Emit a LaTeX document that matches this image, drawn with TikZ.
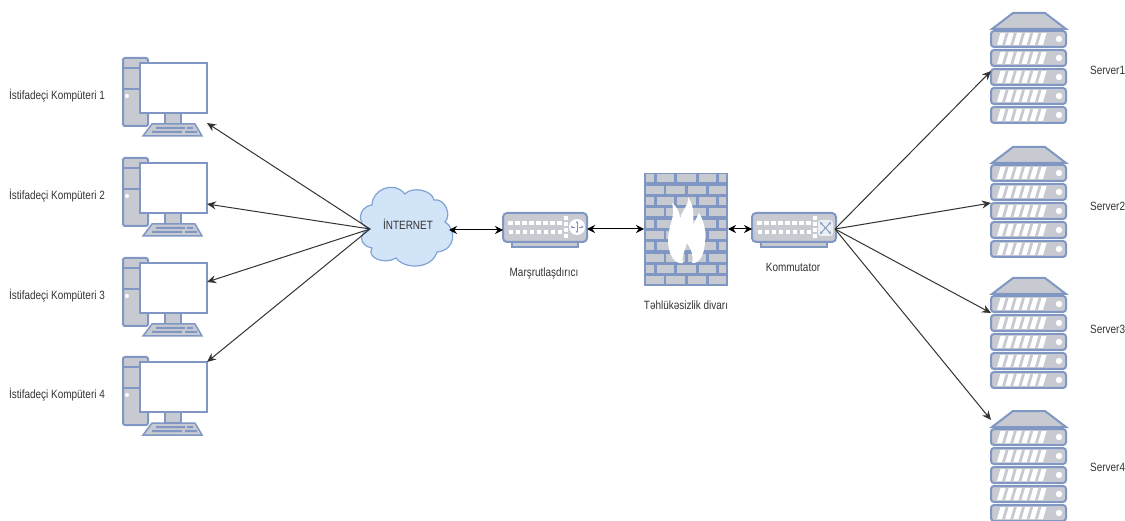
\documentclass[tikz,border=0pt]{standalone}
\usepackage{fontspec}
\setmainfont[FakeStretch=0.83]{Liberation Sans}
\usepackage{xcolor}
\usepackage{tikz}
\usetikzlibrary{arrows.meta}

\definecolor{iconblue}{HTML}{7F97C2}
\definecolor{icongray}{HTML}{C8CAD2}
\definecolor{cloudblue}{HTML}{D2E4F8}
\definecolor{cloudline}{HTML}{7FA3D2}
\definecolor{inkgray}{HTML}{333333}

\tikzset{
	iconpart/.style={draw=iconblue, fill=icongray, line width=2pt},
	iconbar/.style={fill=iconblue},
	iconhole/.style={fill=white},
	labeltext/.style={text=inkgray, font=\fontsize{12}{14}\selectfont, inner sep=0pt},
	link/.style={draw=inkgray, line width=1pt, -{Stealth[length=9pt,width=8pt]}},
	duallink/.style={draw=black, line width=1pt, {Stealth[length=8pt,width=8pt]}-{Stealth[length=8pt,width=8pt]}},
	pcicon/.pic={
		\draw[iconpart, rounded corners=2pt] (0,1) rectangle (25,69);
		\draw[draw=iconblue, line width=2pt] (0,11) -- (25,11) (0,32) -- (25,32);
		\fill[iconhole] (4,39) circle (2);
		\draw[iconpart] (42,56) rectangle (58,67);
		\draw[draw=iconblue, fill=white, line width=2.6pt] (17,6) rectangle (84,56);
		\draw[iconpart, line width=1.5pt] (29,67) -- (72,67) -- (79,79) -- (20,79) -- cycle;
		\fill[iconbar] (33,70) rectangle (62,72) (29,74) rectangle (59,76);
		\fill[iconbar] (64,70) rectangle (70,72) (62,74) rectangle (74,76);
	},
	devicebody/.pic={
		\draw[iconpart, line width=1.5pt] (9,29) rectangle (75,34);
		\draw[iconpart, rounded corners=4pt] (0,0) rectangle (84,29);
		\foreach \col in {0,...,7} {
			\fill[iconhole] (5+\col*7,8) rectangle +(5,4.5);
			\fill[iconhole] (5.5+\col*7,17) rectangle +(4,4);
		}
		\foreach \row in {3,9,15,21} {
			\fill[iconhole] (61,\row) rectangle +(3.5,4);
		}
	},
	routericon/.pic={
		\pic {devicebody};
		\fill[iconhole] (74,14) circle (8);
		\draw[draw=iconblue, line width=0.8pt, {Stealth[length=2.5pt,width=2.5pt]}-{Stealth[length=2.5pt,width=2.5pt]}] (74,8) -- (74,20);
		\draw[draw=iconblue, line width=0.8pt, -{Stealth[length=2.5pt,width=2.5pt]}] (72,14) -- (67.5,14);
		\draw[draw=iconblue, line width=0.8pt, -{Stealth[length=2.5pt,width=2.5pt]}] (76,14) -- (80.5,14);
	},
	switchicon/.pic={
		\pic {devicebody};
		\fill[fill=white!70!icongray, rounded corners=3pt] (66,7) rectangle (81,23);
		\draw[draw=iconblue, line width=0.9pt, {Stealth[length=3pt,width=3pt]}-{Stealth[length=3pt,width=3pt]}] (68,9) -- (79,21);
		\draw[draw=iconblue, line width=0.9pt, {Stealth[length=3pt,width=3pt]}-{Stealth[length=3pt,width=3pt]}] (79,9) -- (68,21);
	},
	servericon/.pic={
		\draw[iconpart] (22,0) -- (54,0) -- (75,16) -- (1,16) -- cycle;
		\foreach \row in {0,...,4} {
			\draw[iconpart, rounded corners=3pt] (0,18+\row*19) rectangle +(75,16);
			\foreach \col in {0,...,5} {
				\fill[iconhole] (6+\col*8.2,32+\row*19) -- ++(3.5,-12) -- ++(5,0) -- ++(-3.5,12) -- cycle;
			}
			\fill[iconhole] (68,26+\row*19) circle (3.2);
		}
	},
	wallicon/.pic={
		\fill[iconblue] (0,0) rectangle (84,113);
		\foreach \row in {0,2,4,6,8} {
			\foreach \left/\right in {2/10, 13/30, 33/52, 55/72, 75/82} {
				\fill[icongray] (\left,1.5+\row*11.3) rectangle (\right,9.5+\row*11.3);
			}
			\foreach \left/\right in {2/20, 22/41, 44/62, 65/82} {
				\fill[icongray] (\left,12.8+\row*11.3) rectangle (\right,20.8+\row*11.3);
			}
		}
		\fill[white] (39,90) .. controls (30,92) and (24,80) .. (24,67)
			.. controls (24,52) and (32,45) .. (28,30)
			.. controls (33,34) and (36,40) .. (36,45)
			.. controls (38,38) and (45,32) .. (44,24)
			.. controls (50,32) and (50,44) .. (49,52)
			.. controls (51,48) and (53,44) .. (55,40)
			.. controls (60,48) and (62,58) .. (61,67)
			.. controls (61,80) and (56,91) .. (48,90)
			.. controls (50,82) and (47,76) .. (43,70)
			.. controls (42,76) and (37,82) .. (39,90) -- cycle;
	}
}

\begin{document}
\begin{tikzpicture}[x=1pt, y=-1pt]
	\useasboundingbox (0,0) rectangle (1125,521);

	\foreach \idx/\top in {1/57, 2/157, 3/257, 4/356} {
		\pic (pcbox\idx) at (123,\top) {pcicon};
		\node[labeltext] (pclabel\idx) at (57,\top+39) {İstifadeçi Kompüteri \idx};
	}

	\foreach \idx/\top/\ytext in {1/13/70, 2/147/206, 3/278/329, 4/411/467} {
		\pic (srvbox\idx) at (991,\top) {servericon};
		\node[labeltext, anchor=west] (srvlabel\idx) at (1090,\ytext) {Server\idx};
	}

	\draw[draw=cloudline, fill=cloudblue, line width=1.2pt] (370,229)
		.. controls (357,226) and (357,207) .. (372,205)
		.. controls (372,190) and (393,180) .. (405,194)
		.. controls (412,186) and (432,190) .. (434,200)
		.. controls (445,198) and (452,215) .. (445,222)
		.. controls (456,228) and (457,250) .. (437,252)
		.. controls (432,269) and (405,270) .. (396,258)
		.. controls (385,265) and (366,258) .. (372,248)
		.. controls (359,246) and (358,232) .. (370,229) -- cycle;
	\node[labeltext] (net) at (408,224) {İNTERNET};
	\coordinate (nethub) at (370,229);
	\coordinate (netport) at (449,230);

	\pic (routerbox) at (503,213) {routericon};
	\node[labeltext] (routerlabel) at (544,273) {Marşrutlaşdırıcı};
	\pic (wallbox) at (644,173) {wallicon};
	\node[labeltext] (walllabel) at (686,305) {Təhlükəsizlik divarı};
	\pic (switchbox) at (752,213) {switchicon};
	\node[labeltext] (switchlabel) at (793,267) {Kommutator};

	\coordinate (pc1) at (207,123);
	\coordinate (pc2) at (207,204);
	\coordinate (pc3) at (207,282);
	\coordinate (pc4) at (207,362);
	\coordinate (srv1) at (991,71);
	\coordinate (srv2) at (991,203);
	\coordinate (srv3) at (991,313);
	\coordinate (srv4) at (991,420);
	\coordinate (routerwest) at (503,230);
	\coordinate (routereast) at (587,229);
	\coordinate (wallwest) at (644,229);
	\coordinate (walleast) at (728,229);
	\coordinate (switchwest) at (752,229);
	\coordinate (switcheast) at (835,229);

	\foreach \idx in {1,...,4} {
		\draw[link] (nethub) -- (pc\idx);
		\draw[link] (switcheast) -- (srv\idx);
	}
	\draw[duallink] (netport) -- (routerwest);
	\draw[duallink] (routereast) -- (wallwest);
	\draw[duallink] (walleast) -- (switchwest);
\end{tikzpicture}
\end{document}
